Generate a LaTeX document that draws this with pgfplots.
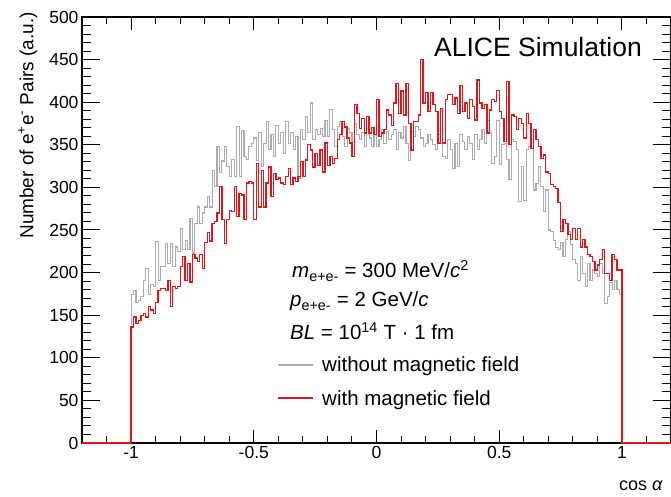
\documentclass[border=0pt]{standalone}
\usepackage{pgfplots}
\usepackage{pgfplotstable}
\pgfplotsset{compat=1.18}
\usepackage{fontspec}
\setmainfont{Liberation Sans}
\definecolor{histred}{RGB}{225,20,25}
\definecolor{histgray}{RGB}{172,172,172}
\pgfplotstableread{
x g r
-1.20 0 0
-1.00 174 136
-0.99 179 148
-0.98 165 140
-0.97 167 144
-0.96 172 150
-0.95 191 152
-0.94 205 148
-0.93 174 160
-0.92 186 156
-0.91 184 152
-0.90 236 165
-0.89 191 179
-0.88 207 181
-0.87 207 181
-0.86 234 179
-0.85 211 191
-0.84 234 160
-0.83 207 184
-0.82 230 181
-0.81 225 184
-0.80 252 207
-0.79 227 219
-0.78 238 191
-0.77 227 211
-0.76 264 189
-0.75 223 221
-0.74 258 217
-0.73 277 213
-0.72 258 221
-0.71 270 205
-0.70 277 235
-0.69 289 247
-0.68 277 237
-0.67 320 258
-0.66 301 260
-0.65 348 270
-0.64 317 301
-0.63 331 262
-0.62 348 234
-0.61 324 262
-0.60 313 273
-0.59 333 272
-0.58 313 301
-0.57 371 266
-0.56 313 293
-0.55 367 291
-0.54 336 262
-0.53 333 305
-0.52 348 307
-0.51 352 305
-0.50 358 262
-0.49 332 328
-0.48 364 277
-0.47 324 320
-0.46 352 277
-0.45 377 305
-0.44 344 324
-0.43 362 289
-0.42 336 316
-0.41 373 309
-0.40 352 311
-0.39 364 305
-0.38 340 303
-0.37 377 313
-0.36 352 322
-0.35 364 303
-0.34 344 311
-0.33 360 307
-0.32 311 313
-0.31 368 330
-0.30 356 313
-0.29 383 332
-0.28 364 350
-0.27 399 344
-0.26 356 324
-0.25 368 340
-0.24 362 326
-0.23 369 344
-0.22 360 318
-0.21 379 352
-0.20 360 326
-0.19 391 336
-0.18 368 328
-0.17 348 334
-0.16 371 356
-0.15 377 362
-0.14 360 377
-0.13 348 371
-0.12 369 358
-0.11 364 352
-0.10 354 336
-0.09 375 397
-0.08 362 387
-0.07 356 369
-0.06 364 381
-0.05 348 364
-0.04 383 383
-0.03 358 364
-0.02 348 370
-0.01 362 362
0.00 348 403
0.01 356 360
0.02 368 364
0.03 352 368
0.04 366 391
0.05 356 385
0.06 362 373
0.07 368 399
0.08 344 422
0.09 364 387
0.10 358 413
0.11 371 385
0.12 352 422
0.13 332 375
0.14 366 344
0.15 360 377
0.16 371 377
0.17 368 385
0.18 358 450
0.19 348 399
0.20 352 411
0.21 362 389
0.22 356 411
0.23 350 397
0.24 344 389
0.25 362 352
0.26 352 393
0.27 336 352
0.28 334 403
0.29 356 409
0.30 344 409
0.31 322 397
0.32 352 405
0.33 324 387
0.34 362 420
0.35 354 389
0.36 344 399
0.37 360 381
0.38 352 403
0.39 333 395
0.40 362 379
0.41 344 426
0.42 356 399
0.43 368 393
0.44 352 397
0.45 379 364
0.46 364 391
0.47 328 403
0.48 336 401
0.49 379 414
0.50 327 389
0.51 350 381
0.52 352 354
0.53 333 424
0.54 309 350
0.55 356 385
0.56 354 383
0.57 344 368
0.58 283 381
0.59 324 375
0.60 285 358
0.61 344 387
0.62 348 375
0.63 356 346
0.64 297 368
0.65 305 356
0.66 324 348
0.67 301 334
0.68 272 338
0.69 297 318
0.70 250 316
0.71 248 303
0.72 238 301
0.73 229 299
0.74 227 282
0.75 235 248
0.76 219 262
0.77 239 258
0.78 248 245
0.79 233 239
0.80 215 252
0.81 211 239
0.82 191 252
0.83 219 230
0.84 199 239
0.85 184 230
0.86 211 221
0.87 191 219
0.88 203 213
0.89 199 203
0.90 195 209
0.91 211 215
0.92 199 227
0.93 164 199
0.94 172 199
0.95 188 191
0.96 180 221
0.97 191 215
0.98 180 203
0.99 174 203
1.00 0 0
1.20 0 0
}\histdata
\begin{document}
\begin{tikzpicture}
\path[use as bounding box] (-82bp,-54bp) rectangle (589bp,443bp);
\begin{axis}[
  at={(0,0)}, anchor=south west,
  scale only axis, width=589bp, height=426bp,
  xmin=-1.2, xmax=1.2, ymin=0, ymax=500,
  axis line style={line width=1.2bp, black},
  tick align=inside,
  xtick={-1,-0.5,0,0.5,1},
  xticklabels={-1,-0.5,0,0.5,1},
  minor xtick={-1.1,-0.9,-0.8,-0.7,-0.6,-0.4,-0.3,-0.2,-0.1,0.1,0.2,0.3,0.4,0.6,0.7,0.8,0.9,1.1},
  ytick={0,50,100,150,200,250,300,350,400,450,500},
  yticklabels={0,50,100,150,200,250,300,350,400,450,500},
  minor y tick num=4,
  tick label style={font=\fontsize{17.5bp}{20bp}\selectfont},
  xtick style={line width=1bp, black, /pgfplots/major tick length=13bp, /pgfplots/minor tick length=7bp},
  ytick style={line width=1bp, black, /pgfplots/major tick length=18bp, /pgfplots/minor tick length=9bp},
]
\addplot[const plot, histgray, line width=1.1bp] table[x=x, y=g] {\histdata};
\addplot[const plot, histred, line width=1.3bp] table[x=x, y=r] {\histdata};
\end{axis}
\node[rotate=90, anchor=north east, inner sep=0pt, font=\fontsize{19bp}{22bp}\selectfont] at (-64bp,431bp) {Number of e\textsuperscript{+}e\textsuperscript{-} Pairs (a.u.)};
\node[anchor=base east, inner sep=0pt, font=\fontsize{18bp}{21bp}\selectfont] at (581bp,-47bp) {cos \textit{α}};
\node[anchor=base west, inner sep=0pt, font=\fontsize{26.5bp}{30bp}\selectfont] at (352bp,386bp) {ALICE Simulation};
\begin{scope}[every node/.style={anchor=base west, inner sep=0pt, font=\fontsize{20.5bp}{24bp}\selectfont}]
\node at (210bp,165bp) {\textit{m}\textsubscript{e+e-} = 300 MeV/\textit{c}\textsuperscript{2}};
\node at (208bp,136bp) {\textit{p}\textsubscript{e+e-} = 2 GeV/\textit{c}};
\node at (208bp,103bp) {\textit{BL} = 10\textsuperscript{14} T · 1 fm};
\draw[histgray, line width=1.3bp] (196bp,78bp) -- (231bp,78bp);
\node at (240bp,71bp) {without magnetic field};
\draw[histred, line width=1.3bp] (196bp,45bp) -- (231bp,45bp);
\node at (240bp,38bp) {with magnetic field};
\end{scope}
\end{tikzpicture}
\end{document}
